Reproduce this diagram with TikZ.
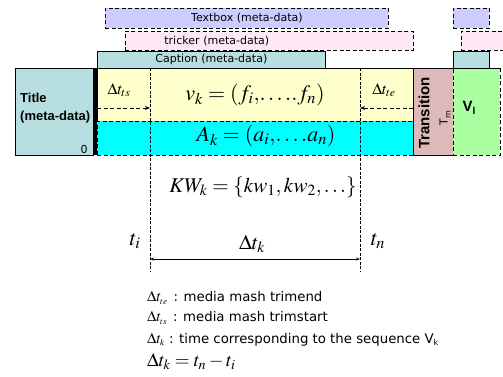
\documentclass[tikz,border=0pt]{standalone}
\usepackage[no-math]{fontspec}
\usepackage{mathptmx}
\setsansfont{DejaVu Sans}
\newfontfamily\arialb{Liberation Sans}
\usetikzlibrary{arrows.meta}
\definecolor{lav}{HTML}{CCCCFF}
\definecolor{pinkl}{HTML}{FFE8F6}
\definecolor{teal}{HTML}{B7DEE0}
\definecolor{yel}{HTML}{FFFFCC}
\definecolor{cyn}{HTML}{00FFFF}
\definecolor{trans}{HTML}{DDB9B9}
\definecolor{grn}{HTML}{AAFFA0}
\newcommand\lgmsize{\fontsize{15}{17}\selectfont}
\tikzset{
  meta/.style={draw=black, line width=0.8pt, anchor=north west, inner sep=0pt, font=\sffamily\fontsize{11}{12}\selectfont},
  metad/.style={meta, dash pattern=on 4pt off 2.5pt},
  dl/.style={line width=0.8pt, dash pattern=on 4pt off 2.5pt},
  vl/.style={line width=0.5pt, dash pattern=on 3pt off 1.5pt},
  lg/.style={anchor=west, inner sep=0pt, font=\sffamily\fontsize{13.3}{15}\selectfont},
}
\begin{document}
\begin{tikzpicture}[x=1pt,y=-1pt]
\useasboundingbox (0,0) rectangle (503,376);
% top meta boxes
\node[metad, fill=lav, minimum width=283pt, minimum height=20pt] (textbox) at (105,8) {Textbox (meta-data)};
\node[metad, fill=lav, minimum width=36pt, minimum height=20pt] (textbox2) at (453,8) {};
\node[metad, fill=pinkl, minimum width=288pt, minimum height=19pt, text width=282pt, align=left] (tricker) at (125,31) {\hspace{36pt}tricker (meta-data)};
\node[metad, fill=pinkl, minimum width=50pt, minimum height=19pt] (tricker2) at (461,31) {};
\node[meta, fill=teal, minimum width=228pt, minimum height=17pt] (caption) at (97,51) {Caption (meta-data)};
\node[meta, fill=teal, minimum width=36pt, minimum height=17pt] (caption2) at (453,51) {};
% main row
\node[draw=black, line width=0.8pt, fill=teal, anchor=north west, minimum width=78pt, minimum height=87pt, inner sep=0pt] (title) at (15,68) {};
\node[anchor=west, align=left, font=\arialb\bfseries\fontsize{13}{18}\selectfont, inner sep=0pt] (titletxt) at (20,108) {Title\\(meta-data)};
\node[font=\sffamily\fontsize{11}{12}\selectfont, inner sep=0pt] (zero) at (84,149) {0};
\fill[black] (93,68) rectangle (97,155);
\node[fill=yel, draw=black, line width=0.8pt, anchor=north west, minimum width=316pt, minimum height=53pt, inner sep=0pt] (video) at (97,68) {};
\node[fill=cyn, draw=black, dl, anchor=north west, minimum width=316pt, minimum height=34pt, inner sep=0pt] (audio) at (97,121) {};
\node[fill=trans, draw=black, line width=0.8pt, anchor=north west, minimum width=40pt, minimum height=87pt, inner sep=0pt] (transition) at (413,68) {};
\node[fill=grn, draw=black, dl, anchor=north west, minimum width=47pt, minimum height=87pt, inner sep=0pt] (vl) at (453,68) {};
\draw[line width=0.8pt] (title.north west) -- (vl.north east);
\node[rotate=90, font=\arialb\bfseries\fontsize{15}{17}\selectfont, inner sep=0pt] (transtxt) at (424,113) {Transition};
\node[rotate=90, font=\sffamily\fontsize{11}{12}\selectfont, inner sep=0pt] (tm) at (445,118) {T\raisebox{-3pt}{\fontsize{8}{9}\selectfont m}};
\node[font=\arialb\bfseries\fontsize{15}{17}\selectfont, inner sep=0pt] (vltxt) at (469,108) {V\raisebox{-3pt}{\fontsize{10}{11}\selectfont l}};
% math
\node[font=\fontsize{22}{24}\selectfont, inner sep=0pt] (vk) at (255,95) {$v_k=(f_i,\!\ldots..f_n)$};
\node[font=\fontsize{22}{24}\selectfont, inner sep=0pt] (ak) at (266,136) {$A_k=(a_i,\!\ldots.a_n)$};
\node[font=\fontsize{16}{18}\selectfont, inner sep=0pt] (dts) at (119,90) {$\Delta t_{ts}$};
\node[font=\fontsize{16}{18}\selectfont, inner sep=0pt] (dte) at (384,90) {$\Delta t_{te}$};
% verticals
\coordinate (ti0) at (150,68); \coordinate (ti1) at (150,271);
\coordinate (tn0) at (360,68); \coordinate (tn1) at (360,271);
\draw[vl] (ti0) -- (ti1);
\draw[vl] (tn0) -- (tn1);
\coordinate (as0) at (97,108); \coordinate (as1) at (150,108);
\coordinate (ae0) at (413,108); \coordinate (ae1) at (360,108);
\draw[dl, -{Stealth[length=5pt,width=4pt]}] (as0) -- (as1);
\draw[dl, -{Stealth[length=5pt,width=4pt]}] (ae0) -- (ae1);
\node[font=\fontsize{21}{23}\selectfont, inner sep=0pt] (kw) at (263,187) {$KW_k=\{kw_1,kw_2,\ldots\}$};
\node[font=\fontsize{22}{24}\selectfont, inner sep=0pt] (ti) at (135,241) {$t_i$};
\node[font=\fontsize{22}{24}\selectfont, inner sep=0pt] (tn) at (378,241) {$t_n$};
\node[font=\fontsize{21}{23}\selectfont, inner sep=0pt] (dtk) at (252,244) {$\Delta t_k$};
\coordinate (k0) at (150,259); \coordinate (k1) at (360,259);
\draw[line width=0.6pt, {Stealth[length=4pt,width=3pt]}-{Stealth[length=4pt,width=3pt]}] (k0) -- (k1);
% legend
\node[lg] (l1) at (147,298) {{\lgmsize$\Delta t_{\scriptscriptstyle te}$}\hspace{6pt}: media mash trimend};
\node[lg] (l2) at (147,318) {{\lgmsize$\Delta t_{\scriptscriptstyle ts}$}\hspace{6pt}: media mash trimstart};
\node[lg] (l3) at (147,340) {{\lgmsize$\Delta t_{\scriptscriptstyle k}$} : time corresponding to the sequence V\raisebox{-2pt}{\fontsize{8}{9}\selectfont k}};
\node[lg, font=\fontsize{19}{21}\selectfont] (l4) at (147,362) {$\Delta t_k=t_n-t_i$};
\end{tikzpicture}
\end{document}
